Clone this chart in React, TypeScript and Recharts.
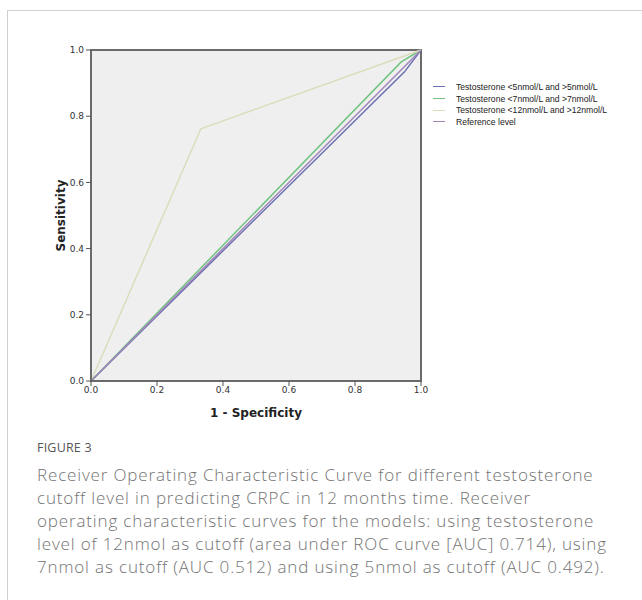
import {
  LineChart,
  Line,
  XAxis,
  YAxis,
  ReferenceArea,
} from "recharts";

type Pt = { x: number; y: number };

// ROC points (1 - specificity, sensitivity)
const t5: Pt[] = [
  { x: 0, y: 0 },
  { x: 0.95, y: 0.934 },
  { x: 1, y: 1 },
];
const t7: Pt[] = [
  { x: 0, y: 0 },
  { x: 0.94, y: 0.964 },
  { x: 1, y: 1 },
];
const t12: Pt[] = [
  { x: 0, y: 0 },
  { x: 0.333, y: 0.762 },
  { x: 1, y: 1 },
];
const reference: Pt[] = [
  { x: 0, y: 0 },
  { x: 1, y: 1 },
];

const ticks = [0, 0.2, 0.4, 0.6, 0.8, 1.0];

const series = [
  { name: "Testosterone <5nmol/L and >5nmol/L", data: t5, color: "#6c70b3" },
  { name: "Testosterone <7nmol/L and >7nmol/L", data: t7, color: "#72c383" },
  { name: "Testosterone <12nmol/L and >12nmol/L", data: t12, color: "#dcdcbc" },
  { name: "Reference level", data: reference, color: "#9f86b9" },
];

const captionLines = [
  "Receiver Operating Characteristic Curve for different testosterone",
  "cutoff level in predicting CRPC in 12 months time. Receiver",
  "operating characteristic curves for the models: using testosterone",
  "level of 12nmol as cutoff (area under ROC curve [AUC] 0.714), using",
  "7nmol as cutoff (AUC 0.512) and using 5nmol as cutoff (AUC 0.492).",
];

const tickFont = { fontFamily: "DejaVu Sans", fontSize: 9, fill: "#333" };

function LegendBox() {
  return (
    <div style={{ fontFamily: "Liberation Sans", fontSize: 8.6, color: "#222" }}>
      {series.map((s) => (
        <div
          key={s.name}
          style={{ display: "flex", alignItems: "center", height: 11.7 }}
        >
          <span
            style={{
              display: "inline-block",
              width: 12,
              height: 0,
              borderTop: `1.5px solid ${s.color}`,
              marginRight: 11,
            }}
          />
          <span>{s.name}</span>
        </div>
      ))}
    </div>
  );
}

export default function App() {
  return (
    <div
      style={{
        position: "absolute",
        left: 0,
        top: 0,
        width: 642,
        height: 600,
        background: "#fff",
        overflow: "hidden",
      }}
    >
      <div
        style={{
          position: "absolute",
          left: 7,
          top: 10,
          width: 700,
          height: 700,
          borderTop: "1px solid #cfcfcf",
          borderLeft: "1px solid #cfcfcf",
        }}
      />
      <div style={{ position: "absolute", left: 0, top: 0 }}>
        <LineChart
          width={642}
          height={440}
          margin={{ top: 50, right: 221, left: 51, bottom: 29 }}
        >
          <ReferenceArea
            x1={0}
            x2={1}
            y1={0}
            y2={1}
            fill="#efefef"
            fillOpacity={1}
            stroke="#6a6a6a"
            strokeWidth={2}
            ifOverflow="visible"
          />
          <XAxis
            type="number"
            dataKey="x"
            domain={[0, 1]}
            ticks={ticks}
            tickFormatter={(v: number) => v.toFixed(1)}
            tick={tickFont}
            tickLine={{ stroke: "#555" }}
            tickSize={5}
            tickMargin={1}
            axisLine={{ stroke: "#6a6a6a", strokeWidth: 2 }}
            height={30}
            allowDuplicatedCategory={false}
            label={{
              value: "1 - Specificity",
              position: "insideBottom",
              offset: -6,
              style: {
                fontFamily: "DejaVu Sans",
                fontWeight: "bold",
                fontSize: 12,
                fill: "#222",
              },
            }}
          />
          <YAxis
            type="number"
            dataKey="y"
            domain={[0, 1]}
            ticks={ticks}
            tickFormatter={(v: number) => v.toFixed(1)}
            tick={tickFont}
            tickLine={{ stroke: "#555" }}
            tickSize={5}
            tickMargin={2}
            axisLine={{ stroke: "#6a6a6a", strokeWidth: 2 }}
            width={40}
            label={{
              value: "Sensitivity",
              angle: -90,
              position: "insideLeft",
              offset: 10,
              style: {
                fontFamily: "DejaVu Sans",
                fontWeight: "bold",
                fontSize: 12,
                fill: "#222",
                textAnchor: "middle",
              },
            }}
          />
          {series.map((s) => (
            <Line
              key={s.name}
              data={s.data}
              dataKey="y"
              name={s.name}
              type="linear"
              stroke={s.color}
              strokeWidth={1.5}
              dot={false}
              activeDot={false}
              isAnimationActive={false}
            />
          ))}
        </LineChart>
      </div>
      <div style={{ position: "absolute", left: 433, top: 81 }}>
        <LegendBox />
      </div>
      <div
        style={{
          position: "absolute",
          left: 37,
          top: 439,
          fontFamily: "Open Sans",
          fontSize: 12.5,
          color: "#555",
          letterSpacing: 0.2,
        }}
      >
        FIGURE 3
      </div>
      <div
        style={{
          position: "absolute",
          left: 37,
          top: 463,
          fontFamily: "Open Sans",
          fontWeight: 300,
          fontSize: 17,
          letterSpacing: 0.85,
          lineHeight: "23px",
          color: "#737373",
          whiteSpace: "nowrap",
        }}
      >
        {captionLines.map((l) => (
          <div key={l}>{l}</div>
        ))}
      </div>
    </div>
  );
}
